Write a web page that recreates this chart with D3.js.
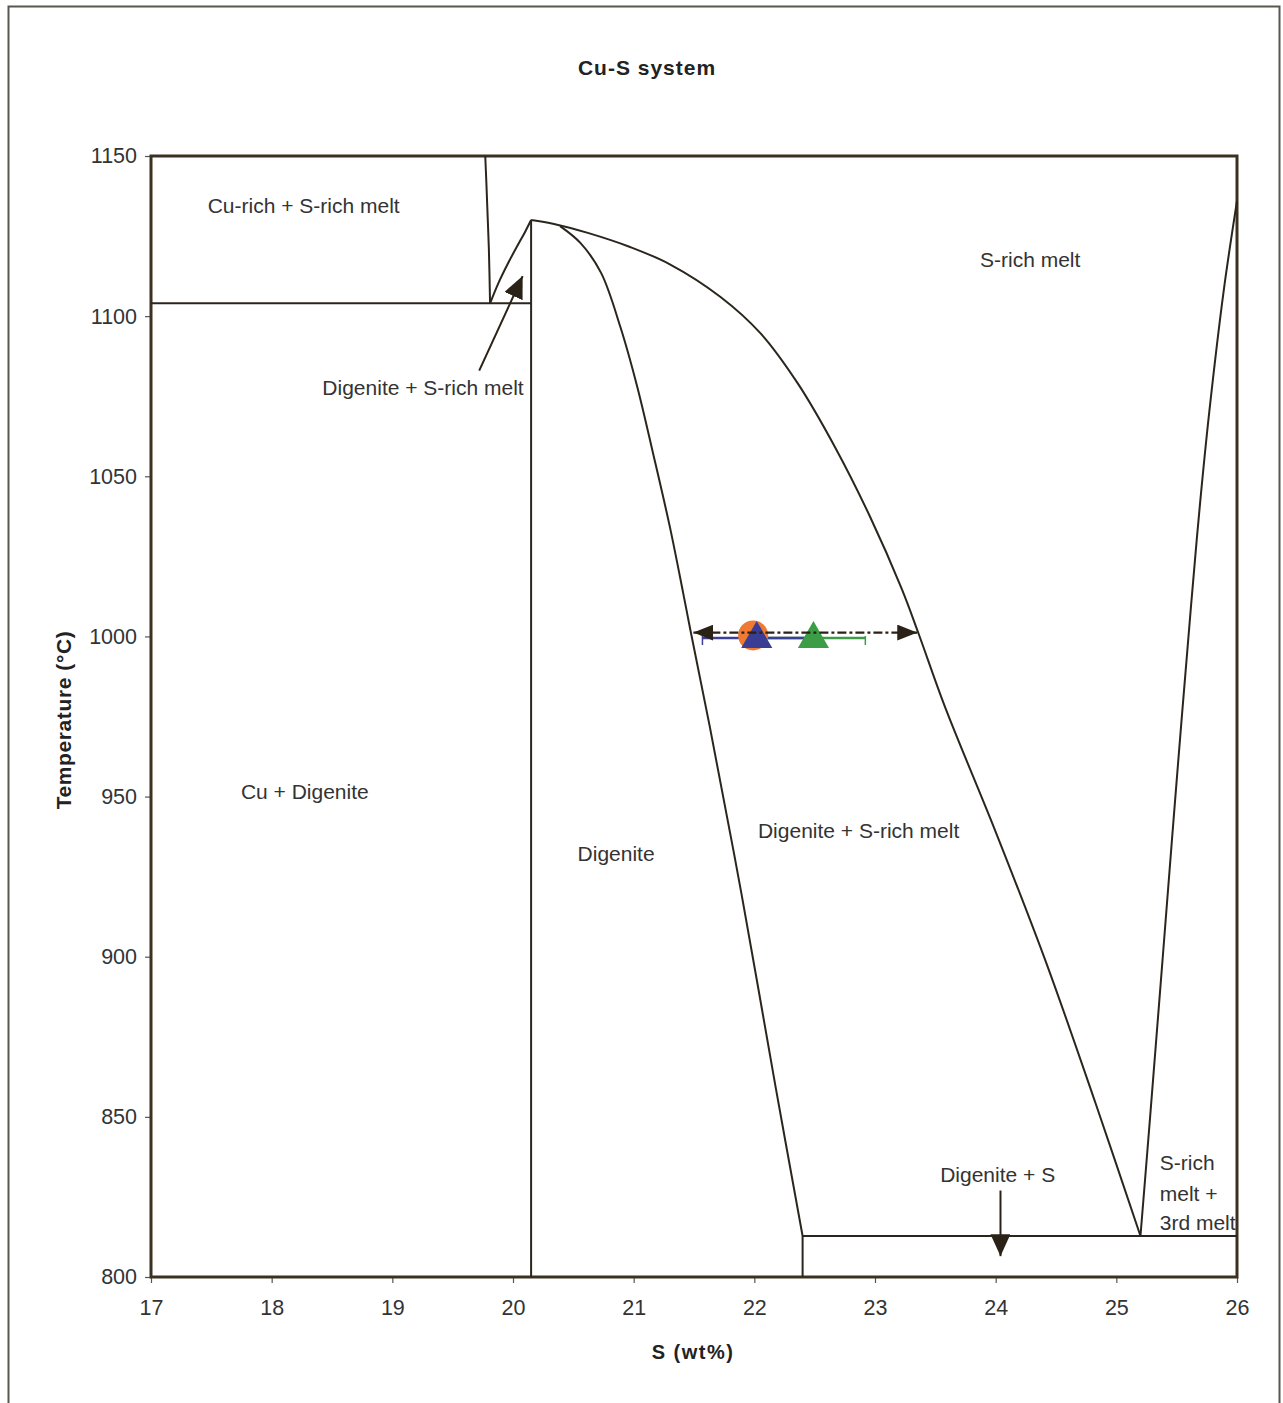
<!DOCTYPE html>
<html>
<head>
<meta charset="utf-8">
<script src="https://cdn.jsdelivr.net/npm/d3@7/dist/d3.min.js"></script>
<style>
  html, body { margin: 0; padding: 0; background: #ffffff; }
  svg { display: block; }
  text { font-family: "Liberation Sans", Arial, sans-serif; }
</style>
</head>
<body>
<svg id="chart" width="1283" height="1403"></svg>
<script>
// ---------------- DATA ----------------
const xTicks = [17, 18, 19, 20, 21, 22, 23, 24, 25, 26];
const yTicks = [800, 850, 900, 950, 1000, 1050, 1100, 1150];

// phase boundaries: [S wt%, Temperature °C]
const cuSideBoundary = [[19.77, 1150], [19.78, 1141], [19.79, 1131], [19.80, 1121], [19.81, 1104]];
const cuSideLiquidus = [[19.81, 1104], [19.88, 1110.4], [19.96, 1116.6], [20.04, 1122.2], [20.10, 1126.3], [20.15, 1130]];
const monotecticLine = [[17, 1104], [20.15, 1104]];
const digeniteLeft = [[20.15, 1130], [20.15, 800]];
const sRichLiquidus = [[20.15, 1130], [20.34, 1128.8], [20.62, 1126], [20.97, 1121.6], [21.30, 1116.2],
  [21.72, 1106], [22.05, 1094.7], [22.36, 1079], [22.67, 1059], [22.96, 1037.3], [23.22, 1015],
  [23.36, 1001], [23.58, 978], [24.00, 939], [24.42, 898], [24.83, 854], [25.2, 812.8]];
const digeniteSolidus = [[20.39, 1128.1], [20.56, 1122.8], [20.73, 1113.5], [20.89, 1096.6], [21.03, 1077.9],
  [21.16, 1057.3], [21.30, 1034.2], [21.41, 1013.6], [21.47, 1002], [21.63, 972], [21.895, 919.3],
  [22.175, 859.6], [22.40, 812.8]];
const digeniteRight = [[22.40, 812.8], [22.40, 800]];
const eutecticLine = [[22.40, 812.8], [26, 812.8]];
const rightLiquidus = [[25.2, 812.8], [25.28, 850], [25.385, 900], [25.50, 955], [25.62, 1010],
  [25.69, 1040], [25.77, 1070], [25.89, 1108], [26.0, 1136]];

// experimental points at 1000 °C
const orangePoint = [21.99, 1000.3];
const bluePoint = [22.02, 999.5];
const blueError = [21.57, 22.47];
const greenPoint = [22.49, 999.5];
const greenError = [22.06, 22.92];
const tieLine = [[21.495, 1001.2], [23.35, 1001.2]];

// label pointer arrows
const arrowUpper = [[19.72, 1083], [20.08, 1112.5]];
const arrowLower = [[24.04, 827], [24.04, 806.5]];

// region labels: [text, S wt%, Temperature]
const regionLabels = [
  ["Cu-rich + S-rich melt", 17.47, 1134.7],
  ["S-rich melt", 23.87, 1117.8],
  ["Digenite + S-rich melt", 18.42, 1077.6],
  ["Cu + Digenite", 17.745, 951.7],
  ["Digenite", 20.535, 932.1],
  ["Digenite + S-rich melt", 22.03, 939.3],
  ["Digenite + S", 23.54, 831.9],
  ["S-rich", 25.36, 835.9],
  ["melt +", 25.36, 826.2],
  ["3rd melt", 25.36, 816.9]
];

// ---------------- CHART ----------------
const svg = d3.select("#chart");
const lineColor = "#2b261d";
const frameColor = "#3b3120";
const textColor = "#333333";

// outer frame
svg.append("rect").attr("x", 8.5).attr("y", 6.5).attr("width", 1271).attr("height", 1420)
  .attr("fill", "none").attr("stroke", "#5a5650").attr("stroke-width", 2);

const x = d3.scaleLinear().domain([17, 26]).range([151, 1237]);
const y = d3.scaleLinear().domain([800, 1150]).range([1277, 156]);

const defs = svg.append("defs");
defs.append("marker").attr("id", "headTie").attr("markerUnits", "userSpaceOnUse")
  .attr("viewBox", "0 0 20 16").attr("refX", 20).attr("refY", 8)
  .attr("markerWidth", 20).attr("markerHeight", 16).attr("orient", "auto-start-reverse")
  .append("path").attr("d", "M0,0 L20,8 L0,16 Z").attr("fill", "#2a2216");
defs.append("marker").attr("id", "headLabel").attr("markerUnits", "userSpaceOnUse")
  .attr("viewBox", "0 0 22 20").attr("refX", 22).attr("refY", 10)
  .attr("markerWidth", 22).attr("markerHeight", 20).attr("orient", "auto")
  .append("path").attr("d", "M0,0 L22,10 L0,20 Z").attr("fill", "#2a2216");

// axes
const xAxis = d3.axisBottom(x).tickValues(xTicks).tickSize(6).tickPadding(17).tickFormat(d3.format("d"));
const yAxis = d3.axisLeft(y).tickValues(yTicks).tickSize(6).tickPadding(8).tickFormat(d3.format("d"));

const gx = svg.append("g").attr("transform", `translate(0,${y(800)})`).call(xAxis);
const gy = svg.append("g").attr("transform", `translate(${x(17)},0)`).call(yAxis);
[gx, gy].forEach(g => {
  g.select(".domain").remove();
  g.selectAll(".tick line").attr("stroke", "#555").attr("stroke-width", 1.2);
  g.selectAll(".tick text").attr("fill", textColor).style("font-size", "21.5px")
    .style("font-family", "'Liberation Sans', Arial, sans-serif");
});

// plot frame
svg.append("rect").attr("x", x(17)).attr("y", y(1150))
  .attr("width", x(26) - x(17)).attr("height", y(800) - y(1150))
  .attr("fill", "none").attr("stroke", frameColor).attr("stroke-width", 3);

// boundaries
const straight = d3.line().x(d => x(d[0])).y(d => y(d[1]));
const smooth = d3.line().x(d => x(d[0])).y(d => y(d[1])).curve(d3.curveCatmullRom.alpha(0.5));

const gB = svg.append("g").attr("fill", "none").attr("stroke", lineColor)
  .attr("stroke-width", 2).attr("stroke-linejoin", "round");
gB.append("path").attr("d", smooth(cuSideBoundary));
gB.append("path").attr("d", smooth(cuSideLiquidus));
gB.append("path").attr("d", straight(monotecticLine));
gB.append("path").attr("d", straight(digeniteLeft));
gB.append("path").attr("d", smooth(sRichLiquidus));
gB.append("path").attr("d", smooth(digeniteSolidus));
gB.append("path").attr("d", straight(digeniteRight));
gB.append("path").attr("d", straight(eutecticLine));
gB.append("path").attr("d", smooth(rightLiquidus));

// experimental points
function errorBar(range, pt, color) {
  const g = svg.append("g").attr("stroke", color).attr("stroke-width", 2.5).attr("fill", "none");
  g.append("line").attr("x1", x(range[0])).attr("x2", x(range[1]))
    .attr("y1", y(pt[1])).attr("y2", y(pt[1]));
  range.forEach(v => g.append("line").attr("x1", x(v)).attr("x2", x(v))
    .attr("y1", y(pt[1]) - 2).attr("y2", y(pt[1]) + 7).attr("stroke-width", 1.5));
}
errorBar(greenError, greenPoint, "#3f9b4a");
errorBar(blueError, bluePoint, "#3d3f95");

svg.append("path").attr("d", d3.symbol().type(d3.symbolCircle).size(Math.PI * 15 * 15)())
  .attr("transform", `translate(${x(orangePoint[0])},${y(orangePoint[1])})`).attr("fill", "#ee7a34");
svg.append("path").attr("d", d3.symbol().type(d3.symbolTriangle).size(420)())
  .attr("transform", `translate(${x(bluePoint[0])},${y(bluePoint[1]) + 1})`).attr("fill", "#3b3d94");
svg.append("path").attr("d", d3.symbol().type(d3.symbolTriangle).size(420)())
  .attr("transform", `translate(${x(greenPoint[0])},${y(greenPoint[1]) + 1})`).attr("fill", "#3c9d47");

svg.append("path").attr("d", straight(tieLine)).attr("fill", "none")
  .attr("stroke", "#2a2216").attr("stroke-width", 2.2)
  .attr("stroke-dasharray", "9,3,3,3")
  .attr("marker-start", "url(#headTie)").attr("marker-end", "url(#headTie)");

// label arrows
[arrowUpper, arrowLower].forEach(a => {
  svg.append("path").attr("d", straight(a)).attr("fill", "none")
    .attr("stroke", "#2a2216").attr("stroke-width", 2)
    .attr("marker-end", "url(#headLabel)");
});

// region labels
svg.append("g").selectAll("text").data(regionLabels).join("text")
  .attr("x", d => x(d[1])).attr("y", d => y(d[2]))
  .attr("dominant-baseline", "central")
  .attr("fill", textColor).style("font-size", "21px")
  .text(d => d[0]);

// titles
svg.append("text").attr("x", 647).attr("y", 67).attr("text-anchor", "middle")
  .attr("dominant-baseline", "central").attr("fill", "#222")
  .style("font-size", "21px").style("font-weight", "bold").style("letter-spacing", "1px")
  .text("Cu-S system");
svg.append("text").attr("x", 693).attr("y", 1352).attr("text-anchor", "middle")
  .attr("dominant-baseline", "central").attr("fill", "#222")
  .style("font-size", "20px").style("font-weight", "bold").style("letter-spacing", "1.5px")
  .text("S (wt%)");
svg.append("text").attr("transform", "translate(63,720) rotate(-90)").attr("text-anchor", "middle")
  .attr("dominant-baseline", "central").attr("fill", "#222")
  .style("font-size", "21px").style("font-weight", "bold").style("letter-spacing", "0.6px")
  .text("Temperature (°C)");
</script>
</body>
</html>
